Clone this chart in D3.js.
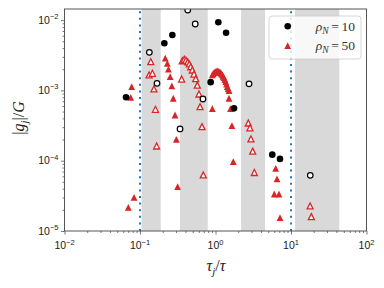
<!DOCTYPE html>
<html><head><meta charset="utf-8">
<script src="https://cdn.jsdelivr.net/npm/d3@7"></script>
<style>body{margin:0;background:#fff}svg{display:block}</style>
</head><body><svg id="c" width="384" height="288"></svg>
<script>
// ---------- data ----------
const xMajor = [1e-2, 1e-1, 1e0, 1e1, 1e2];
const xMajorExp = ["-2", "-1", "0", "1", "2"];
const yMajor = [1e-5, 1e-4, 1e-3, 1e-2];
const yMajorExp = ["-5", "-4", "-3", "-2"];
const bands = [[0.105, 0.188], [0.339, 0.789], [2.18, 4.53], [11.3, 43.6]];
const vlines = [0.1, 10];
const legendLabels = ["10", "50"];

// rho_N = 10 : filled (positive) and open (negative) circles, [tau_j/tau, |g_j|/G]
const rho10Pos = [[0.0653, 7.98e-4], [0.210, 4.68e-3], [0.268, 6.14e-3], [1.09, 9.31e-3], [1.38, 6.62e-3],
  [0.863, 1.31e-3], [1.76, 5.56e-4], [5.65, 1.22e-4], [7.15, 1.06e-4]];
const rho10Neg = [[0.133, 3.48e-3], [0.168, 1.26e-3], [0.429, 1.39e-2], [0.539, 8.81e-3], [0.682, 7.55e-4],
  [0.339, 2.83e-4], [2.78, 1.24e-3], [18.0, 6.19e-5]];

// rho_N = 50 : filled (positive) and open (negative) triangles
const rho50Pos = [[0.0776, 1.13e-3], [0.0753, 7.98e-4], [0.216, 2.87e-3], [0.230, 2.43e-3], [0.238, 2.01e-3],
  [0.251, 1.57e-3], [0.264, 1.16e-3], [0.276, 7.73e-4], [0.291, 4.47e-4], [0.303, 2.01e-4], [0.315, 4.27e-5],
  [0.0834, 3.01e-5], [0.070, 2.17e-5],
  [0.908, 1.66e-3], [0.93, 1.73e-3], [0.955, 1.79e-3], [0.98, 1.82e-3], [1.007, 1.85e-3], [1.03, 1.87e-3],
  [1.057, 1.89e-3], [1.085, 1.87e-3], [1.112, 1.85e-3], [1.14, 1.82e-3], [1.171, 1.79e-3], [1.20, 1.73e-3],
  [1.230, 1.66e-3], [1.26, 1.59e-3], [1.296, 1.52e-3], [1.33, 1.43e-3], [1.365, 1.33e-3], [1.40, 1.23e-3],
  [1.433, 1.13e-3], [1.47, 1.06e-3], [1.509, 9.91e-4], [1.509, 7.73e-4],
  [0.908, 5.50e-4], [1.58, 5.50e-4], [1.65, 3.15e-4], [1.72, 9.68e-5],
  [6.27, 7.80e-5], [6.53, 5.50e-5], [6.01, 3.36e-5], [6.93, 3.36e-5], [7.15, 1.55e-5], [19.5, 9.06e-6]];
const rho50Neg = [[0.139, 2.56e-3], [0.132, 1.66e-3], [0.146, 1.75e-3], [0.153, 1.05e-3], [0.160, 5.38e-4],
  [0.166, 1.62e-4],
  [0.363, 2.64e-3], [0.386, 2.77e-3], [0.406, 2.68e-3], [0.429, 2.54e-3], [0.450, 2.38e-3], [0.470, 2.17e-3],
  [0.493, 1.95e-3], [0.519, 1.71e-3], [0.547, 1.47e-3], [0.574, 1.19e-3],
  [0.356, 1.45e-3], [0.604, 8.89e-4], [0.624, 5.86e-4], [0.662, 3.05e-4], [0.689, 6.27e-5],
  [2.72, 3.44e-4], [2.86, 2.94e-4], [2.95, 2.04e-4], [3.11, 1.37e-4], [3.27, 6.79e-5],
  [17.9, 2.27e-5], [18.6, 1.60e-5]];

// ---------- layout ----------
const L = 64.5, R = 366.5, T = 9, B = 231;
const RED = "#d62728", BLUE = "#1f77b4";
const svg = d3.select("#c");
const x = d3.scaleLog().domain([1e-2, 1e2]).range([L, R]);
const y = d3.scaleLog().domain([1e-5, 0.01439]).range([B, T]);

svg.append("defs").append("clipPath").attr("id", "clip")
  .append("rect").attr("x", L).attr("y", T).attr("width", R - L).attr("height", B - T);
const plot = svg.append("g").attr("clip-path", "url(#clip)");

plot.selectAll("rect.band").data(bands).join("rect")
  .attr("x", d => x(d[0])).attr("width", d => x(d[1]) - x(d[0]))
  .attr("y", T).attr("height", B - T).attr("fill", "#d9d9d9");

plot.selectAll("line.v").data(vlines).join("line")
  .attr("x1", d => x(d)).attr("x2", d => x(d)).attr("y1", B).attr("y2", T)
  .attr("stroke", BLUE).attr("stroke-width", 2).attr("stroke-dasharray", "2,4.6");

const tri = h => `M0,${-h}L${h},${h}L${-h},${h}Z`;

plot.selectAll("path.t50p").data(rho50Pos).join("path")
  .attr("d", tri(3.4)).attr("transform", d => `translate(${x(d[0])},${y(d[1])})`)
  .attr("fill", RED);
plot.selectAll("path.t50n").data(rho50Neg).join("path")
  .attr("d", tri(3.0)).attr("transform", d => `translate(${x(d[0])},${y(d[1])})`)
  .attr("fill", "#fff").attr("stroke", RED).attr("stroke-width", 1.3);
plot.selectAll("circle.c10p").data(rho10Pos).join("circle")
  .attr("cx", d => x(d[0])).attr("cy", d => y(d[1])).attr("r", 3.3).attr("fill", "#000");
plot.selectAll("circle.c10n").data(rho10Neg).join("circle")
  .attr("cx", d => x(d[0])).attr("cy", d => y(d[1])).attr("r", 2.8)
  .attr("fill", "#fff").attr("stroke", "#000").attr("stroke-width", 1.2);

// ---------- axes ----------
function minors(lo, hi) {
  const out = [];
  for (let e = Math.floor(Math.log10(lo)); e <= Math.ceil(Math.log10(hi)); e++)
    for (let k = 2; k <= 9; k++) { const v = k * Math.pow(10, e); if (v > lo && v < hi) out.push(v); }
  return out;
}
const AX = "#555";
function styleAxis(g) {
  g.select(".domain").remove();
  g.selectAll("line").attr("stroke", AX).attr("stroke-width", 0.8);
}
svg.append("g").attr("transform", `translate(0,${B})`)
  .call(d3.axisBottom(x).tickValues(minors(1e-2, 1e2)).tickSize(2).tickFormat("")).call(styleAxis);
svg.append("g").attr("transform", `translate(${L},0)`)
  .call(d3.axisLeft(y).tickValues(minors(1e-5, 0.01439)).tickSize(2).tickFormat("")).call(styleAxis);
svg.append("g").attr("transform", `translate(0,${B})`)
  .call(d3.axisBottom(x).tickValues(xMajor).tickSize(3.5).tickFormat("")).call(styleAxis);
svg.append("g").attr("transform", `translate(${L},0)`)
  .call(d3.axisLeft(y).tickValues(yMajor).tickSize(3.5).tickFormat("")).call(styleAxis);

svg.append("rect").attr("x", L).attr("y", T).attr("width", R - L).attr("height", B - T)
  .attr("fill", "none").attr("stroke", AX).attr("stroke-width", 1);

const FONT = "Liberation Sans, Arial, sans-serif";
xMajor.forEach((v, i) => {
  const t = svg.append("text").attr("x", x(v)).attr("y", 249).attr("text-anchor", "middle")
    .attr("font-family", FONT).attr("font-size", 10.5).attr("fill", "#1a1a1a");
  t.append("tspan").text("10");
  t.append("tspan").attr("dy", -4.5).attr("font-size", 7.5).text(xMajorExp[i].replace("-", "\u2212"));
});
yMajor.forEach((v, i) => {
  const t = svg.append("text").attr("x", L - 6).attr("y", y(v) + 3.5).attr("text-anchor", "end")
    .attr("font-family", FONT).attr("font-size", 10.5).attr("fill", "#1a1a1a");
  t.append("tspan").text("10");
  t.append("tspan").attr("dy", -4.5).attr("font-size", 7.5).text(yMajorExp[i].replace("-", "\u2212"));
});

const MATH = "Liberation Serif, DejaVu Serif, serif";
// x label
{
  const t = svg.append("text").attr("x", 216).attr("y", 271).attr("text-anchor", "middle")
    .attr("font-family", MATH).attr("font-size", 16).attr("fill", "#222");
  t.append("tspan").attr("font-style", "italic").text("\u03c4");
  t.append("tspan").attr("font-style", "italic").attr("font-size", 11).attr("dy", 3.5).text("j");
  t.append("tspan").attr("dy", -3.5).text("/");
  t.append("tspan").attr("font-style", "italic").text("\u03c4");
}
// y label
{
  const t = svg.append("text").attr("transform", `translate(24,118) rotate(-90)`).attr("text-anchor", "middle")
    .attr("font-family", MATH).attr("font-size", 16).attr("fill", "#222");
  t.append("tspan").text("|");
  t.append("tspan").attr("font-style", "italic").text("g");
  t.append("tspan").attr("font-style", "italic").attr("font-size", 11).attr("dy", 3.5).text("j");
  t.append("tspan").attr("dy", -3.5).text("|/");
  t.append("tspan").attr("font-style", "italic").text("G");
}

// ---------- legend ----------
const lg = svg.append("g");
lg.append("rect").attr("x", 269).attr("y", 16).attr("width", 92).attr("height", 43).attr("rx", 3)
  .attr("fill", "#fff").attr("fill-opacity", 0.8).attr("stroke", "#ccc").attr("stroke-width", 0.8);
lg.append("circle").attr("cx", 287.7).attr("cy", 26.3).attr("r", 3.3).attr("fill", "#000");
lg.append("path").attr("d", tri(3.4)).attr("transform", "translate(287.7,45.7)").attr("fill", RED);
legendLabels.forEach((lab, i) => {
  const t = lg.append("text").attr("x", 355).attr("y", 30.5 + i * 19.5).attr("text-anchor", "end")
    .attr("font-family", MATH).attr("font-size", 13.5).attr("fill", "#333");
  t.append("tspan").attr("font-style", "italic").text("\u03c1");
  t.append("tspan").attr("font-style", "italic").attr("font-size", 9.5).attr("dy", 3).text("N");
  t.append("tspan").attr("dy", -3).text("\u2009=\u2009" + lab);
});
</script></body></html>
